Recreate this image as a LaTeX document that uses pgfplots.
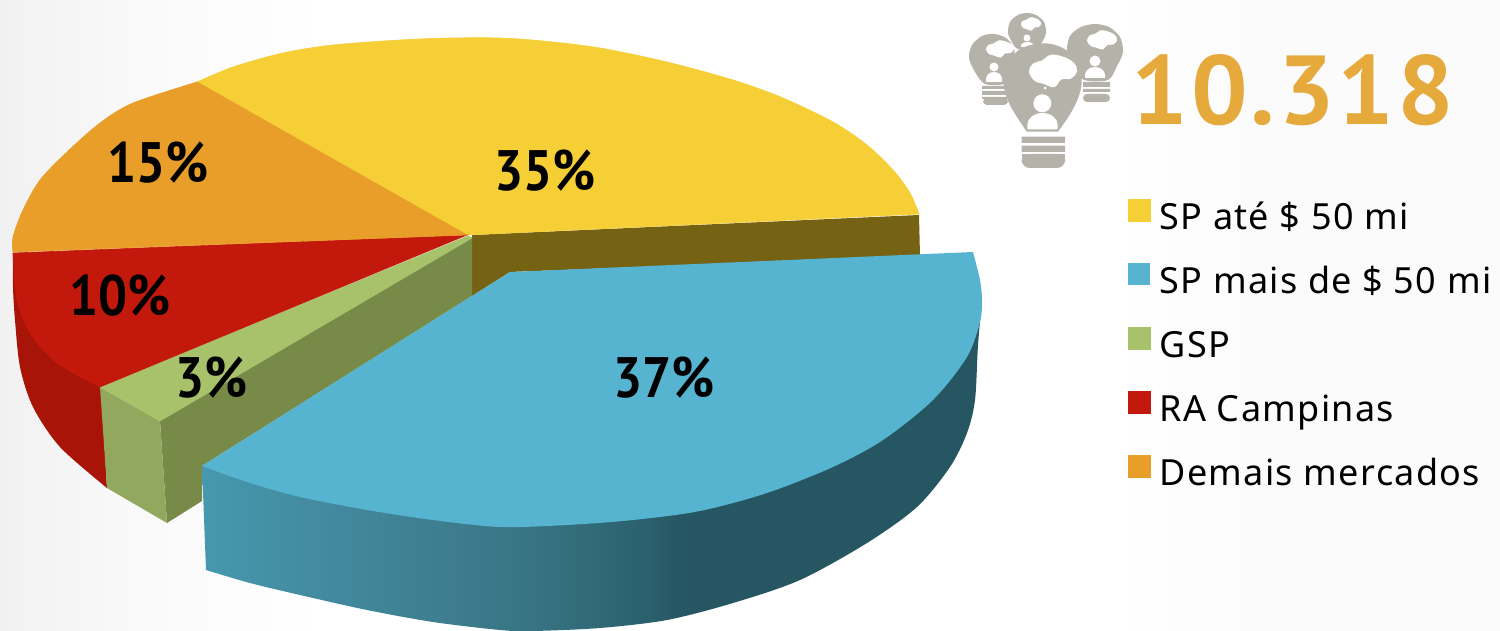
\documentclass[border=0pt]{standalone}
\usepackage{pgfplots}
\pgfplotsset{compat=1.18}
\usepackage{fontspec}
\setmainfont{Noto Sans}
\newfontfamily\labelfont[FakeStretch=0.9]{PT Sans}
\newfontfamily\totalfont[LetterSpace=3,FakeStretch=1.02]{PT Sans}
\definecolor{cyellow}{HTML}{F6CE35}
\definecolor{cblue}{HTML}{56B4D0}
\definecolor{cgreen}{HTML}{A8C26C}
\definecolor{cred}{HTML}{C3190C}
\definecolor{corange}{HTML}{E99E2A}
\definecolor{sbrown}{HTML}{756213}
\definecolor{sgreen}{HTML}{778A48}
\definecolor{sgreenf}{HTML}{92A85E}
\definecolor{sred}{HTML}{A81408}
\definecolor{iconc}{HTML}{B5B2A9}
\definecolor{totalc}{HTML}{E5A93C}
\definecolor{rimA}{HTML}{4698AE}
\definecolor{rimB}{HTML}{42889C}
\definecolor{rimC}{HTML}{3A7888}
\definecolor{rimD}{HTML}{346F7E}
\definecolor{rimE}{HTML}{2C6270}
\definecolor{rimF}{HTML}{255661}
\definecolor{bgA}{HTML}{F1F1F1}
\definecolor{bgB}{HTML}{FAFAFA}
\definecolor{bgC}{HTML}{FBFBFB}
\pgfdeclarehorizontalshading{bluerim}{100bp}{%
  color(0bp)=(rimA); color(25bp)=(rimA); color(34bp)=(rimB); color(44bp)=(rimC);
  color(48bp)=(rimD); color(53bp)=(rimE); color(56bp)=(rimF); color(100bp)=(rimF)}
\pgfdeclarehorizontalshading{pagebg}{100bp}{%
  color(0bp)=(bgA); color(25bp)=(bgA); color(30bp)=(bgB); color(36bp)=(white);
  color(62bp)=(white); color(67bp)=(bgC); color(100bp)=(bgC)}
\pgfplotsset{legend square/.style={legend image code/.code={%
  \fill[#1] (0pt,-0.5pt) rectangle (11pt,10.5pt);}}}
\newcommand{\cloud}[4]{% centre x, centre y, half width, half height
  \fill[white,shift={(#1,#2)},x=#3*0.5pt,y=-#4*0.5pt]
    plot[smooth cycle,tension=0.7] coordinates {(-1,0.05) (-0.82,-0.45) (-0.45,-0.62) (-0.1,-0.95) (0.4,-0.85)
      (0.85,-0.5) (1,0) (0.75,0.45) (0.35,0.5) (0.05,0.95) (-0.4,0.75) (-0.75,0.6)};}
\begin{document}
\begin{tikzpicture}
\begin{axis}[
  scale only axis, width=750pt, height=315.5pt,
  xmin=0, xmax=1500, ymin=0, ymax=631, y dir=reverse,
  hide axis, clip=true,
  legend cell align=left,
  legend style={at={(axis cs:1128,199)}, anchor=north west, draw=none, fill=none,
    inner sep=0pt, outer sep=0pt, row sep=12.4pt, column sep=4.5pt,
    nodes={inner sep=0pt, text height=13.5pt, text depth=4.5pt,
      font=\fontsize{18}{20}\selectfont\addfontfeatures{LetterSpace=3.7}}},
]
% page background
\addplot[forget plot, draw=none, shading=pagebg] coordinates {(0,0) (1500,0) (1500,631) (0,631)} -- cycle;

% rim of the yellow slice
\addplot[forget plot, draw=none, fill=sbrown] coordinates
  {(472,235) (919,215) (920,256) (510,272) (472,296)} -- cycle;
% rim of the red slice
\addplot[forget plot, smooth, draw=none, fill=sred] coordinates
  {(13,253) (13,287) (15,320) (20,367) (33,407) (60,447) (107,488)} -- (axis cs:101,387) -- cycle;
% rims of the green slice
\addplot[forget plot, draw=none, fill=sgreen] coordinates
  {(472,237) (472,296) (202,466) (202,501) (167,523) (160,421)} -- cycle;
\addplot[forget plot, draw=none, fill=sgreenf] coordinates
  {(100,387) (160,421) (167,523) (107,488)} -- cycle;
% rim of the detached blue slice
\addplot[forget plot, smooth, draw=none, shading=bluerim] coordinates
  {(982,300) (978,345) (975,400) (967,433) (950,467) (917,507) (867,543) (800,580) (733,603) (667,620) (600,628)
   (533,631) (500,630) (433,622) (367,610) (300,595) (250,583) (206,570)}
  -- (axis cs:202,466) -- (axis cs:700,400) -- cycle;

% top faces
\addplot[smooth, draw=cyellow, line width=0.3pt, fill=cyellow, legend square={cyellow}] coordinates
  {(197,82) (233,67) (283,53) (333,45) (400,40) (450,38) (500,38) (543,41) (600,48) (667,62) (733,80)
   (783,98) (833,122) (867,145) (893,170) (910,193) (919,214)} -- (axis cs:467,235) -- cycle;
\addlegendentry{SP até \$ 50 mi}
\addplot[smooth, draw=none, fill=cblue, legend square={cblue}] coordinates
  {(973,252) (980,280) (982,300) (980,322) (967,357) (933,400) (883,440) (833,467) (767,493) (700,511) (633,520)
   (567,525) (500,527) (433,520) (367,510) (300,497) (250,483) (202,466)} -- (axis cs:510,272) -- cycle;
\addlegendentry{SP mais de \$ 50 mi}
\addplot[draw=cgreen, line width=0.3pt, fill=cgreen, legend square={cgreen}] coordinates
  {(468,236) (100,387) (160,421) (472,238)} -- cycle;
\addlegendentry{GSP}
\addplot[smooth, draw=cred, line width=0.3pt, fill=cred, legend square={cred}] coordinates
  {(13,253) (17,300) (30,333) (57,363) (100,387)} -- (axis cs:467,235) -- cycle;
\addlegendentry{RA Campinas}
\addplot[smooth, draw=corange, line width=0.3pt, fill=corange, legend square={corange}] coordinates
  {(13,252) (13,237) (23,210) (40,180) (67,152) (100,123) (133,103) (197,82)} -- (axis cs:467,235) -- cycle;
\addlegendentry{Demais mercados}

% percentages printed on the slices
\begin{scope}[every node/.style={anchor=base, inner sep=0pt, font=\labelfont\bfseries\fontsize{28.5}{30}\selectfont}]
\node at (axis cs:545,191) {35\%};
\node at (axis cs:158,183) {15\%};
\node at (axis cs:120,315) {10\%};
\node at (axis cs:212,397) {3\%};
\node at (axis cs:664,397) {37\%};
\end{scope}
\node[anchor=base, inner sep=0pt, text=totalc, font=\totalfont\bfseries\fontsize{49}{50}\selectfont] at (axis cs:1293,125) {10.318};
\end{axis}

% light-bulb icon, coordinates in page units from the top left corner
\begin{scope}[shift={(0pt,315.5pt)}, x=0.5pt, y=-0.5pt]
  % left bulb
  \fill[iconc] plot[smooth cycle] coordinates {(985,84) (975,72) (969,58) (972,45) (982,36) (994,34) (1006,38) (1014,48) (1014,62) (1008,75) (1004,84)};
  \fill[iconc] (982,86) rectangle (1008,89) (982,91) rectangle (1008,95) (982,97) rectangle (1008,99);
  \fill[iconc,rounded corners=2pt] (983,98) rectangle (1008,105);
  \cloud{1000}{49}{14}{9}
  \fill[white] (994,67) circle[radius=4.5];
  \fill[white] (986,82) -- (986,79) arc[start angle=180,end angle=360,x radius=8,y radius=7] -- (1002,82) -- cycle;
  % top bulb
  \fill[iconc] plot[smooth cycle] coordinates {(1018,49) (1012,42) (1008,33) (1010,22) (1018,15) (1027,13) (1036,15) (1044,22) (1046,33) (1042,42) (1036,49)};
  \fill[iconc] (1018,50) rectangle (1036,54) (1018,55) rectangle (1036,60);
  \cloud{1031}{24}{10}{7}
  \fill[white] (1027,38) circle[radius=3.5];
  \fill[white] (1021,47) -- (1021,46) arc[start angle=180,end angle=360,x radius=6.5,y radius=4] -- (1034,47) -- cycle;
  % right bulb
  \fill[iconc] plot[smooth cycle] coordinates {(1084,80) (1074,68) (1067,52) (1070,36) (1081,27) (1095,24) (1109,27) (1120,37) (1123,52) (1117,66) (1108,80)};
  \fill[iconc] (1083,82) rectangle (1110,87) (1083,89) rectangle (1110,92);
  \fill[iconc,rounded corners=2pt] (1083,94) rectangle (1110,102);
  \cloud{1102}{40}{15}{10}
  \fill[white] (1095,61) circle[radius=5.5];
  \fill[white] (1085,78) -- (1085,75) arc[start angle=180,end angle=360,x radius=10,y radius=8] -- (1105,78) -- cycle;
  % main bulb
  \fill[iconc] (1026.7,131.7) .. controls (1018,118) and (1003,100) .. (1003.3,80)
     .. controls (1004,58) and (1020,43.3) .. (1043.3,43.3)
     .. controls (1066,43.3) and (1082,60) .. (1081.7,81.7)
     .. controls (1081,100) and (1068,118) .. (1058,131.7) -- cycle;
  \fill[iconc] (1021.7,136.7) rectangle (1065,143) (1021.7,145.7) rectangle (1065,152);
  \fill[iconc,rounded corners=4pt] (1021.7,154) rectangle (1065,168);
  \fill[iconc] (1021.7,154) rectangle (1065,160);
  \cloud{1053}{71}{24}{17}
  \fill[white] (1045,88) circle[radius=1.5];
  \fill[white] (1042.3,103.3) circle[radius=9];
  \fill[white] (1027.3,129.3) -- (1027.3,125) arc[start angle=180,end angle=360,x radius=15.2,y radius=12] -- (1057.7,129.3) -- cycle;
\end{scope}
\end{tikzpicture}
\end{document}
